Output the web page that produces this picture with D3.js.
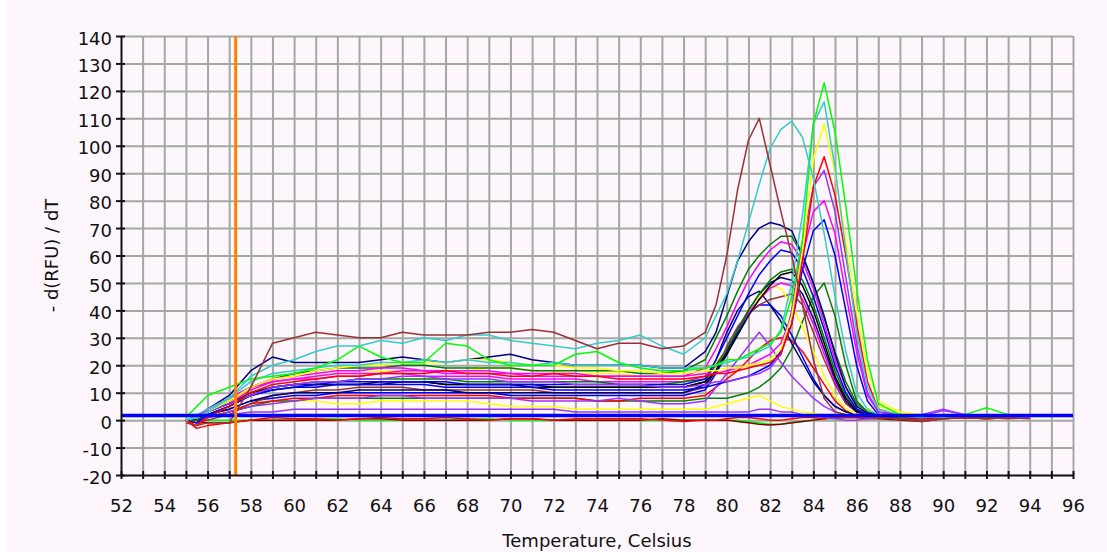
<!DOCTYPE html>
<html lang="en">
<head>
<meta charset="UTF-8">
<title>Melt Peak</title>
<script src="https://d3js.org/d3.v7.min.js"></script>
<style>
  body { margin: 0; background: #ffffff; }
  svg { display: block; }
  .axis text { font-family: "DejaVu Sans", sans-serif; font-size: 18px; fill: #111; }
  .axis path, .axis line { stroke: #111; stroke-width: 2; }
  .grid line { stroke: #a2a9a1; stroke-width: 2; }
  .grid path { display: none; }
</style>
</head>
<body>
<svg id="chart" width="1107" height="552"></svg>
<script>
// temperature steps shared by every trace (Celsius)
const temps = [55, 55.5, 56, 57,
  58, 59, 60, 61, 62, 63, 64, 65, 66, 67, 68, 69, 70, 71, 72, 73, 74, 75, 76, 77, 78, 79,
  79.5, 80, 80.5, 81, 81.5, 82, 82.5, 83, 83.5, 84, 84.5, 85, 85.5, 86, 86.5,
  87, 88, 89, 90, 91, 92, 93, 94];

// -d(RFU)/dT per well
const brownHigh   = [-1,-2,-1,-1, 12,28,30,32,31,30,30,32,31,31,31,32,32,33,32,29,26,28,28,26,27,32, 42,60,84,102,110,93,76,60,42,22,8,3,2,1.5,1, 1,0.5,0,0.5,1,0.5,1,0.5];
const cyanEarly   = [0,1,3,8, 16,20,22,25,27,27,29,28,30,29,31,31,29,28,27,26,28,29,31,27,24,30, 38,46,58,72,86,99,106,109,103,88,68,45,25,10,4, 2,1.5,1,1.5,2,1.5,1,1.5];
const greenTop    = [1,5,9,12, 15,16,17,19,22,27,23,21,21,28,27,22,20,20,20,24,25,21,19,18,18,19, 20,22,22,24,26,28,32,45,66,108,123,105,78,48,22, 6,2,1.5,2,2,4.5,2,2];
const cyanLate    = [0,2,4,8, 14,17,18,19,20,20,21,21,22,21,22,21,21,20,21,20,20,20,20,19,19,19, 20,21,22,23,25,27,33,50,75,108,116,92,62,32,12, 4,2,1.5,1,1.5,2,1,1.5];
const yellowLate  = [0,1,3,7, 12,15,16,18,19,20,20,21,21,21,22,22,21,20,20,19,19,18,18,17,17,18, 18,19,19,20,21,22,26,38,62,95,108,90,66,40,18, 7,3,2,1.5,1.5,1.5,2,1.5];
const redLate     = [0,-2,1,5, 10,13,14,15,16,16,17,17,17,18,17,17,16,16,17,16,16,15,15,15,15,16, 17,17,18,19,20,21,24,35,58,85,96,82,60,35,14, 4,1.5,1,1,1,0.5,1,2];
const purpleLate  = [0,1,3,6, 9,12,13,14,14,15,15,16,16,15,15,15,14,14,14,13,13,13,13,12,12,13, 14,14,15,16,17,19,24,40,65,85,91,76,52,28,10, 3,2,1.5,3.5,2,1.5,1.5,1];
const magentaLate = [0,1,4,8, 12,15,16,17,18,18,19,19,18,18,18,18,17,17,17,17,16,16,16,16,16,17, 17,18,19,20,22,24,28,38,60,76,80,68,46,25,9, 3,1.5,1,1.5,1.5,2,1,1.5];
const blueLate    = [0,1,3,6, 9,11,12,12,13,13,13,13,13,12,12,12,12,12,11,11,11,11,11,11,11,12, 13,14,15,16,18,20,25,35,55,69,73,60,40,20,7, 2,1.5,1.5,1,1.5,1.5,1,1.5];
const navyMid     = [0,1,4,9, 18,23,21,21,21,21,22,23,22,21,22,23,24,22,21,20,20,20,20,19,19,25, 32,45,58,65,70,72,71,69,60,50,38,24,12,5,2.5, 2,1.5,1,1.5,1,1.5,2,1.5];
const greenDkMid  = [0,1,3,7, 12,15,17,18,19,19,19,20,20,19,19,19,19,18,18,18,18,18,17,17,18,22, 30,38,47,55,60,64,67,67,60,50,37,25,14,6,3, 2,1,1,1.5,1.5,1,1.5,2];
const magentaMid  = [0,1,3,6, 11,14,15,16,17,17,17,18,18,17,17,17,17,16,16,16,16,16,16,16,16,19, 26,34,43,51,57,62,65,64,58,48,35,22,12,5,2.5, 1.5,1.5,2,1.5,1,1.5,1.5,1];
const blueMid     = [0,-1,2,5, 9,12,13,13,14,14,14,14,14,14,13,13,13,13,13,13,13,13,13,13,13,15, 22,30,38,46,53,58,62,61,55,45,33,20,10,4,2, 1.5,1,1.5,1.5,2,1.5,1,1.5];
const greenDkLow  = [0,0,2,5, 9,12,13,14,14,15,15,15,15,15,14,14,14,14,14,14,14,13,13,13,14,15, 20,26,33,40,46,51,54,55,51,42,30,18,9,4,2, 1.5,1.5,1,1.5,1.5,1,1.5,1];
const blackMid    = [0,1,3,6, 10,12,13,13,13,13,14,14,14,13,13,13,13,12,12,12,12,12,12,12,12,14, 18,24,31,38,44,49,53,54,49,40,28,16,8,3.5,2, 1.5,1,1.5,1,1.5,1.5,1,1.5];
const navyLow     = [0,0,2,4, 7,9,10,10,10,11,11,11,11,11,10,10,10,10,10,10,10,10,10,10,10,13, 18,25,33,40,46,50,52,51,46,37,26,15,7,3,2, 1.5,1.5,1,1,1.5,1,1.5,1.5];
const magentaLow  = [0,1,4,8, 12,14,15,15,16,16,17,17,16,16,16,16,15,15,15,15,14,14,14,14,14,16, 20,26,33,39,44,48,50,49,44,35,24,14,7,3,2, 1.5,1,1.5,2,1,1.5,2,1];
const yellowMid   = [0,1,3,7, 11,14,15,16,17,17,18,18,18,18,18,19,19,18,18,17,17,17,16,16,16,17, 21,26,33,40,45,49,48,42,34,25,16,9,4,2,1.5, 1.5,2,1.5,1,1.5,2,1.5,1.5];
const brownLow    = [0,-1,0,2, 6,9,10,11,11,12,12,12,11,11,11,11,11,11,10,10,10,10,10,10,10,12, 18,27,34,39,42,44,45,46,42,32,22,13,6,3,1.5, 1,0.5,-0.5,0.5,1,1,0.5,1];
const navyEarly   = [0,0,2,5, 9,11,12,13,13,13,13,14,14,13,13,13,13,13,12,12,12,12,12,12,12,14, 22,32,40,45,47,42,36,28,21,14,9,5,3,2,1.5, 1.5,1,1.5,1.5,1,1.5,1,1.5];
const blueEarly   = [0,0,2,4, 7,8,9,9,10,10,10,10,10,10,10,10,9,9,9,9,9,9,9,9,9,11, 17,24,32,39,42,42,38,31,23,15,9,5,3,2,1.5, 1.5,1,1,1.5,1.5,1,1.5,1];
const purpleSmall = [0,0,1,3, 5,6,7,8,8,8,9,9,8,8,8,8,8,7,7,7,7,8,7,6,6,7, 12,17,22,27,32,27,21,16,12,8,5,3,2,1.5,1.5, 1.5,1,1.5,2,1.5,1.5,1,1.5];
const redSmall    = [0,-1,1,3, 6,7,8,8,9,9,9,9,9,9,9,9,8,8,8,8,7,7,8,8,8,9, 12,15,18,22,26,29,30,29,25,19,13,7,3.5,2,1.5, 1.5,0.5,0.5,1,1,0.5,1,2];
const greenDkLate = [0,0,1,3, 5,7,7,8,8,8,8,8,8,8,8,8,8,8,8,8,7,7,7,7,7,8, 8,8,9,10,12,15,19,26,36,45,50,38,20,7,3, 2,1.5,1,1.5,2,1.5,2,1];
const yellowFlat  = [0,1,2,3, 5,7,7,7,6,6,7,7,7,7,7,6,5,5,5,4,4,4,4,4,4,4, 5,6,7,8,9,7,5,4,3,2.5,2,2,3,3.5,4, 5,3,1.5,1.5,1.5,1.5,1.5,1.5];
const purpleFlat  = [0,0,1,2, 3,3,4,4,4,4,4,4,4,4,4,4,4,4,4,3,3,3,3,3,3,3, 3,3,3,3,4,4,3,3,2,1.5,1,0.5,0,0,0.5, 1,1.5,2,4,2,1.5,1.5,1.5];
const redFlat     = [0,-3,-2,-1, 0,1,0.5,0.5,0,0.5,1,0.5,0.5,1,0.5,0,0.5,0.5,0,0.5,0.5,0.5,0.5,0,-0.5,0, 0,0.5,1,1,0.5,0,0,0.5,1,1,0.5,1,1,1,1, 1,0.5,0.5,1,1,1,1.5,2];
const darkRedFlat = [0,-1,-1,-1, 0,0,0,0,0,0.5,0.5,0,0,0,0,0,0.5,0.5,0,0,0,0,0,0.5,0,0, 0,0,-0.5,-1,-1.5,-1.8,-1.5,-1,-0.5,0,0.5,1,1,1,0.5, 0.5,0,-0.5,0.5,1,1,1,1];
const greenFlat   = [0,0,0,0, 0,0,0,0.5,0.5,0,0,0,0,0,0.5,0.5,0,0,0,0,0,0,0,0,0,0, 0,0,0,-0.5,-1,-1.5,-1.5,-1,-0.5,0,0.5,0.5,1,1,1, 1,1,1,1,1,1,1,1];

// horizontal threshold line and the marker temperature
const thresholdValue = 1.7;
const markerTemp = 57.3;

const xTicks = d3.range(52, 97, 1);
const yTicks = d3.range(-20, 141, 10);

const traces = [
  [greenFlat, "#00ff00"], [darkRedFlat, "#800000"], [redFlat, "#ff0000"],
  [purpleFlat, "#9933ff"], [yellowFlat, "#ffff00"], [greenDkLate, "#008000"],
  [redSmall, "#ff0000"], [purpleSmall, "#9933ff"], [blueEarly, "#0000ff"],
  [navyEarly, "#000080"], [brownLow, "#993333"], [yellowMid, "#ffff00"],
  [magentaLow, "#ff00ff"], [navyLow, "#000080"], [blackMid, "#000000"],
  [greenDkLow, "#008000"], [blueMid, "#0000ff"], [magentaMid, "#ff00ff"],
  [greenDkMid, "#008000"], [navyMid, "#000080"], [blueLate, "#0000ff"],
  [magentaLate, "#ff00ff"], [purpleLate, "#9933ff"], [redLate, "#ff0000"],
  [yellowLate, "#ffff00"], [cyanLate, "#33cccc"], [greenTop, "#00ff00"],
  [cyanEarly, "#33cccc"], [brownHigh, "#993333"]
];

const svg = d3.select("#chart");
const plotLeft = 121, plotRight = 1073, plotTop = 36, plotBottom = 475;

svg.append("rect").attr("x", 7).attr("y", 0).attr("width", 1100).attr("height", 552).attr("fill", "#fdf6fd");

const x = d3.scaleLinear().domain([52, 96]).range([plotLeft, plotRight]);
const y = d3.scaleLinear().domain([-20, 140]).range([plotBottom, plotTop]);

// grid
svg.append("g").attr("class", "grid")
  .attr("transform", `translate(0,${plotBottom})`)
  .call(d3.axisBottom(x).tickValues(xTicks.slice(1)).tickSize(-(plotBottom - plotTop)).tickFormat(""));
svg.append("g").attr("class", "grid")
  .attr("transform", `translate(${plotLeft},0)`)
  .call(d3.axisLeft(y).tickValues(yTicks.slice(1)).tickSize(-(plotRight - plotLeft)).tickFormat(""));

// traces
const line = d3.line().x((d, i) => x(temps[i])).y(d => y(d));
svg.append("g").selectAll("path")
  .data(traces)
  .join("path")
  .attr("d", d => line(d[0]))
  .attr("fill", "none")
  .attr("stroke", d => d[1])
  .attr("stroke-width", 1.5)
  .attr("stroke-linejoin", "round");

// threshold line
svg.append("line")
  .attr("x1", x(52)).attr("x2", x(96))
  .attr("y1", y(thresholdValue)).attr("y2", y(thresholdValue))
  .attr("stroke", "#0000ff").attr("stroke-width", 3.5);

// marker
svg.append("line")
  .attr("x1", x(markerTemp)).attr("x2", x(markerTemp))
  .attr("y1", y(140)).attr("y2", y(-20))
  .attr("stroke", "#ff8000").attr("stroke-width", 3);

// axes
const xAxis = svg.append("g").attr("class", "axis")
  .attr("transform", `translate(0,${plotBottom})`)
  .call(d3.axisBottom(x).tickValues(xTicks).tickSizeOuter(0)
    .tickFormat(d => d % 2 === 0 ? String(d) : ""));
xAxis.selectAll(".tick line").attr("y1", -4).attr("y2", 4);
xAxis.selectAll(".tick text").attr("y", 37).attr("dy", null);

const yAxis = svg.append("g").attr("class", "axis")
  .attr("transform", `translate(${plotLeft},0)`)
  .call(d3.axisLeft(y).tickValues(yTicks).tickSizeOuter(0).tickFormat(d => String(d)));
yAxis.selectAll(".tick line").attr("x1", -5).attr("x2", 4);
yAxis.selectAll(".tick text").attr("x", -9).attr("dy", "0.45em");

// axis titles
svg.append("text")
  .attr("x", (plotLeft + plotRight) / 2).attr("y", 547)
  .attr("text-anchor", "middle")
  .style("font-family", "DejaVu Sans, sans-serif").style("font-size", "18px").style("fill", "#111")
  .text("Temperature, Celsius");

svg.append("text")
  .attr("transform", `translate(58,${(plotTop + plotBottom) / 2}) rotate(-90)`)
  .attr("text-anchor", "middle")
  .style("font-family", "DejaVu Sans, sans-serif").style("font-size", "18px").style("fill", "#111")
  .text("- d(RFU) / dT");
</script>
</body>
</html>
